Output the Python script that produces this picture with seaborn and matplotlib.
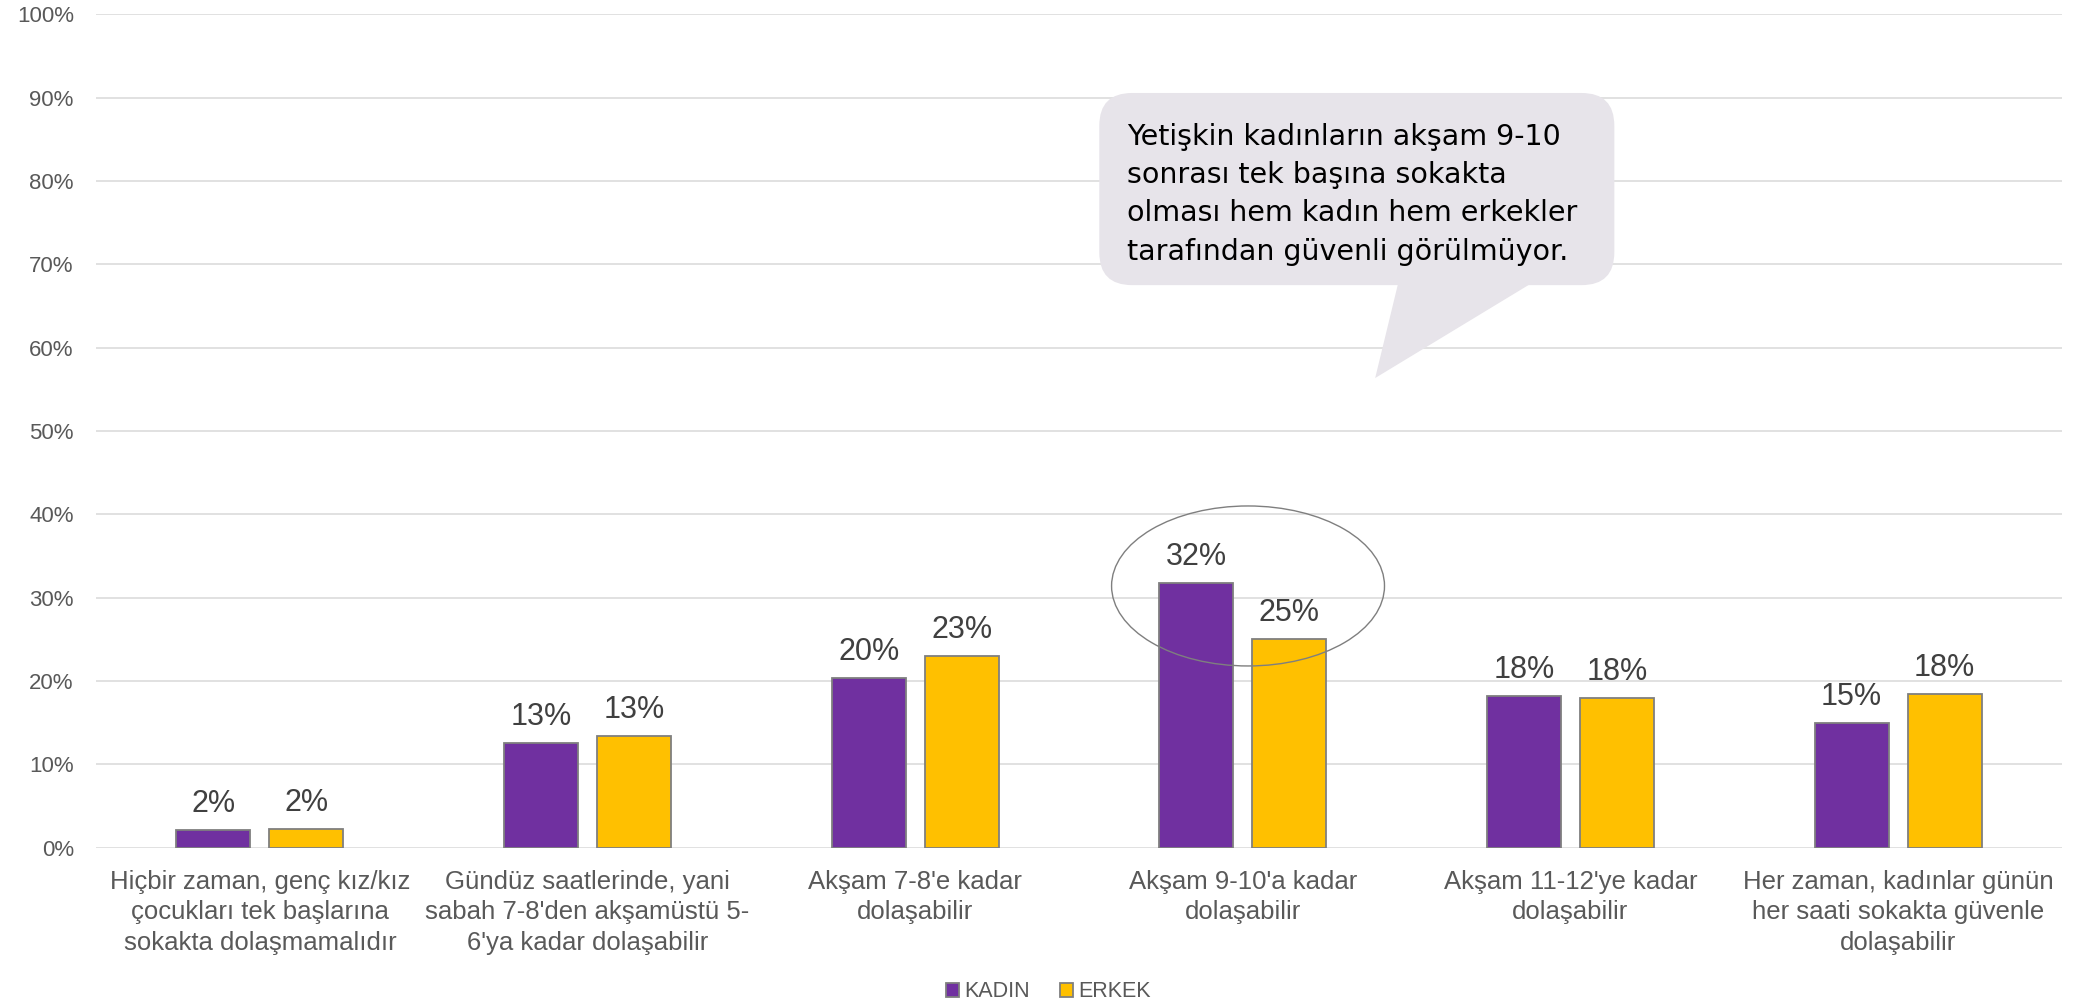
import pandas as pd
import matplotlib.pyplot as plt
import seaborn as sns
from matplotlib.patches import Ellipse, FancyBboxPatch, Polygon, Patch
from matplotlib.ticker import PercentFormatter

# Data
categories = [
    "Hiçbir zaman, genç kız/kız\nçocukları tek başlarına\nsokakta dolaşmamalıdır",
    "Gündüz saatlerinde, yani\nsabah 7-8'den akşamüstü 5-\n6'ya kadar dolaşabilir",
    "Akşam 7-8'e kadar\ndolaşabilir",
    "Akşam 9-10'a kadar\ndolaşabilir",
    "Akşam 11-12'ye kadar\ndolaşabilir",
    "Her zaman, kadınlar günün\nher saati sokakta güvenle\ndolaşabilir",
]
kadin = [0.021, 0.126, 0.203, 0.318, 0.182, 0.149]
erkek = [0.022, 0.134, 0.230, 0.250, 0.179, 0.184]
groups = ["KADIN", "ERKEK"]
colors = ["#7030A0", "#FFC000"]

callout_text = ("Yetişkin kadınların akşam 9-10\nsonrası tek başına sokakta\n"
                "olması hem kadın hem erkekler\ntarafından güvenli görülmüyor.")

df = pd.DataFrame({
    "kategori": categories * 2,
    "oran": kadin + erkek,
    "cinsiyet": [groups[0]] * len(categories) + [groups[1]] * len(categories),
})

sns.set_theme(style="white")
plt.rcParams['font.family'] = ['Liberation Sans', 'DejaVu Sans']

fig = plt.figure(figsize=(20.88, 10.08), dpi=100)
ax = fig.add_axes([0.046, 0.1591, 0.9415, 0.8267])

sns.barplot(data=df, x="kategori", y="oran", hue="cinsiyet", palette=colors,
            saturation=1, width=0.568, gap=0.205, edgecolor="#7F7F7F",
            linewidth=1.3, legend=False, ax=ax, zorder=3)

ax.set_ylim(0, 1.0)
ax.set_xlim(-0.5, len(categories) - 0.5)
ax.set_yticks([i / 10 for i in range(11)])
ax.yaxis.set_major_formatter(PercentFormatter(1.0, decimals=0))
ax.grid(axis="y", color="#D9D9D9", linewidth=1.1, zorder=0)
ax.set_axisbelow(True)
for s in ax.spines.values():
    s.set_visible(False)
ax.set_xlabel("")
ax.set_ylabel("")
ax.tick_params(axis="y", length=0, pad=16, labelsize=16, labelcolor="#595959")
ax.tick_params(axis="x", length=0, pad=16, labelsize=18.5, labelcolor="#595959")
for lbl in ax.get_xticklabels():
    lbl.set_linespacing(1.34)

# data labels
for cont in ax.containers:
    vals = [b.get_height() for b in cont]
    ax.bar_label(cont, labels=[f"{v * 100:.0f}%" for v in vals], padding=8,
                 fontsize=22, color="#404040")

# ellipse around the 9-10 pair
ax.add_patch(Ellipse((3.016, 0.314), 0.833, 0.192, fill=False,
                     edgecolor="#7F7F7F", linewidth=1.0, zorder=5))

# speech bubble
sx = ax.bbox.width / 6.0
sy = ax.bbox.height / 1.0
bx0, bx1 = 2.562, 4.134
by0, by1 = 0.675, 0.9056
box = FancyBboxPatch((bx0, by0), bx1 - bx0, by1 - by0,
                     boxstyle="round,pad=0,rounding_size=0.1",
                     mutation_aspect=sx / sy, facecolor="#E7E4EA",
                     edgecolor="none", zorder=6, clip_on=False)
ax.add_patch(box)
ax.add_patch(Polygon([(3.474, by0 + 0.002), (3.880, by0 + 0.002), (3.404, 0.5635)],
                     closed=True, facecolor="#E7E4EA", edgecolor="none", zorder=6))
ax.text(2.647, 0.870, callout_text, fontsize=20.5, color="black", va="top", ha="left",
        linespacing=1.47, family=["DejaVu Sans"], zorder=7)

# legend
handles = [Patch(facecolor=c, edgecolor="#7F7F7F", linewidth=1.3) for c in colors]
fig.legend(handles, groups, loc="center", bbox_to_anchor=(0.502, 0.016), ncol=2,
           frameon=False, fontsize=15.5, handlelength=0.6, handleheight=0.6,
           handletextpad=0.25, columnspacing=1.4, labelcolor="#595959")

plt.savefig("out.png", dpi=100)
